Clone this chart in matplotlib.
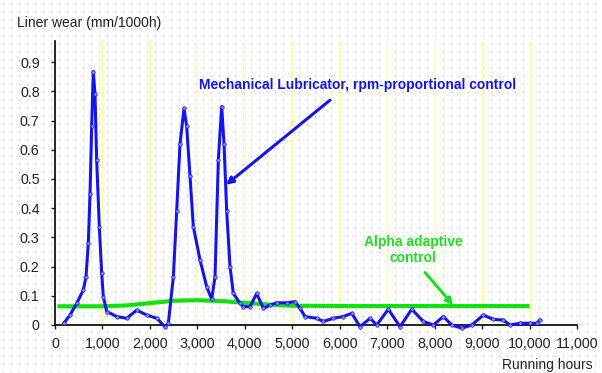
import numpy as np
import matplotlib
matplotlib.use("Agg")
import matplotlib.pyplot as plt

# ---- data ----
mech_hours = [190, 316, 457, 597, 653, 702, 738, 773, 807, 843, 878, 934, 984, 1018,
              1090, 1300, 1511, 1722, 1932, 2143, 2318, 2388, 2494, 2564, 2634, 2719,
              2775, 2845, 2915, 3056, 3197, 3302, 3372, 3442, 3512, 3562, 3618, 3688,
              3758, 3899, 3968, 4110, 4250, 4390, 4531, 4672, 4883, 5058, 5163, 5269,
              5515, 5655, 5866, 6076, 6253, 6428, 6639, 6779, 7024, 7271, 7517, 7762,
              7973, 8184, 8360, 8571, 8782, 9027, 9237, 9448, 9589, 9800, 10010, 10150, 10221]
mech_wear = [0.007, 0.034, 0.074, 0.12, 0.165, 0.28, 0.45, 0.68, 0.868, 0.79, 0.565, 0.337,
             0.178, 0.097, 0.046, 0.029, 0.023, 0.051, 0.034, 0.023, -0.006, 0.006, 0.165,
             0.39, 0.62, 0.742, 0.68, 0.51, 0.337, 0.223, 0.131, 0.088, 0.165, 0.565, 0.748,
             0.62, 0.39, 0.2, 0.108, 0.074, 0.063, 0.063, 0.108, 0.057, 0.068, 0.076, 0.076,
             0.080, 0.057, 0.029, 0.023, 0.012, 0.023, 0.029, 0.04, -0.006, 0.023, 0.0,
             0.054, -0.006, 0.054, 0.012, 0.0, 0.029, 0.0, -0.011, 0.0, 0.034, 0.019, 0.017,
             0.0, 0.006, 0.006, 0.006, 0.017]

alpha_hours = [50, 500, 1000, 1500, 2000, 2500, 3000, 3500, 4000, 4500, 5000, 6000,
               7000, 8000, 9000, 10000]
alpha_wear = [0.064, 0.064, 0.064, 0.067, 0.075, 0.083, 0.085, 0.082, 0.076, 0.070,
              0.066, 0.065, 0.065, 0.065, 0.065, 0.065]

x_ticks = list(range(0, 11001, 1000))
x_tick_labels = ["0", "1,000", "2,000", "3,000", "4,000", "5,000", "6,000", "7,000",
                 "8,000", "9,000", "10,000", "11,000"]
y_ticks = [0, 0.1, 0.2, 0.3, 0.4, 0.5, 0.6, 0.7, 0.8, 0.9]
y_tick_labels = ["0", "0.1", "0.2", "0.3", "0.4", "0.5", "0.6", "0.7", "0.8", "0.9"]

plt.rcParams['font.family'] = ['Liberation Sans', 'DejaVu Sans']

W, H = 602, 373
fig = plt.figure(figsize=(W / 100, H / 100), dpi=100)
fig.patch.set_facecolor('white')

# dotted background texture
bg = np.ones((H, W, 3))
bg[4::8, 3::8] = 0.75
fig.figimage(bg, 0, 0, zorder=-5)

ax = fig.add_axes([55 / W, 1 - 325 / H, (577 - 55) / W, (325 - 41) / H])
ax.set_zorder(5)
ax.set_facecolor('none')
ax.set_xlim(0, 11000)
ax.set_ylim(0, 0.9726)

for x in x_ticks[1:]:
    ax.axvline(x, color='#ffff99', lw=1.0, zorder=1)

ax.plot(alpha_hours, alpha_wear, color='#11e011', lw=3.0, zorder=3,
        solid_capstyle='butt')
ax.plot(mech_hours, mech_wear, color='#1414ee', lw=2.2, zorder=4, clip_on=False,
        marker='o', ms=2.5, mfc='#8c8cff', mec='#1414ee', mew=0.5)

for s in ['top', 'right']:
    ax.spines[s].set_visible(False)
ax.spines['left'].set_linewidth(1.2)
ax.spines['bottom'].set_linewidth(1.2)
ax.spines['bottom'].set_zorder(2)

ax.set_xticks(x_ticks)
ax.set_xticklabels(x_tick_labels)
ax.set_yticks(y_ticks)
ax.set_yticklabels(y_tick_labels)
ax.tick_params(axis='both', labelsize=10.3, colors='#222222', length=3, width=1)
ax.tick_params(axis='x', pad=6)
ax.tick_params(axis='y', pad=8)

fig.text(17 / W, 1 - 23 / H, "Liner wear (mm/1000h)", fontsize=10, color='#222222',
         ha='left', va='center')
fig.text(593 / W, 1 - 365 / H, "Running hours", fontsize=10, color='#222222',
         ha='right', va='center')

ax.annotate("", xy=(3604, 0.48), xytext=(5795, 0.77),
            arrowprops=dict(arrowstyle='-|>', color='#1414ee', lw=2.2,
                            mutation_scale=10, shrinkA=0, shrinkB=0))
ax.text(199 / W, 1 - 85 / H, "Mechanical Lubricator, rpm-proportional control",
        transform=fig.transFigure, fontsize=10, fontweight='bold', color='#1414ee',
        ha='left', va='center')

ax.annotate("", xy=(8388, 0.068), xytext=(7798, 0.18),
            arrowprops=dict(arrowstyle='-|>', color='#11e011', lw=2.0,
                            mutation_scale=10, shrinkA=0, shrinkB=0))
ax.text(413 / W, 1 - 250 / H, "Alpha adaptive\ncontrol", transform=fig.transFigure,
        fontsize=10, fontweight='bold', color='#22dd22', ha='center', va='center',
        linespacing=1.25)

fig.savefig("out.png", dpi=100)
